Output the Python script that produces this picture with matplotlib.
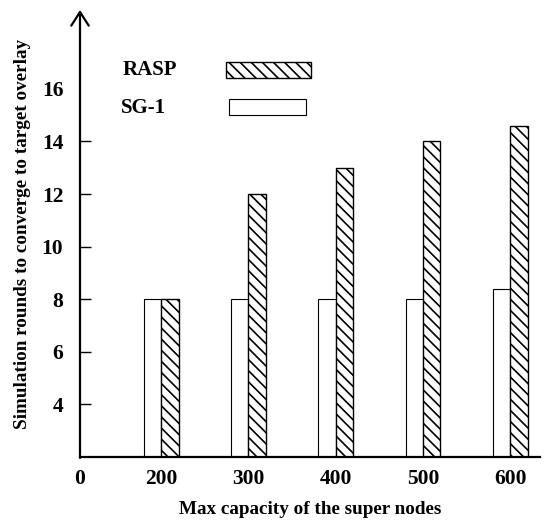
import matplotlib
matplotlib.use('Agg')
import matplotlib.pyplot as plt
from matplotlib.patches import Rectangle
import numpy as np

plt.rcParams["font.family"] = "Liberation Serif"
plt.rcParams["font.weight"] = "bold"
plt.rcParams["hatch.linewidth"] = 1.2

capacities = ['200', '300', '400', '500', '600']
sg1_rounds = [8, 8, 8, 8, 8.4]
rasp_rounds = [8, 12, 13, 14, 14.6]
y_ticks = [4, 6, 8, 10, 12, 14, 16]
series_names = ['RASP', 'SG-1']

bar_w = 0.2
hatch_rasp = '\\\\\\'
x = np.arange(1, len(capacities) + 1)

fig = plt.figure(figsize=(5.44, 5.23), dpi=100)
ax = fig.add_axes([80/544, 1 - 457/523, 460/544, 447/523])

ax.bar(x - bar_w/2, sg1_rounds, bar_w, color='white', edgecolor='black', linewidth=0.8)
ax.bar(x + bar_w/2, rasp_rounds, bar_w, color='white', edgecolor='black',
       linewidth=1.0, hatch=hatch_rasp)

ax.set_xlim(0.1, 5.34)
ax.set_ylim(2, 19.0)

# only left and bottom axis, arrow on top of the y axis
for s in ['top', 'right', 'left']:
    ax.spines[s].set_visible(False)
ax.spines['bottom'].set_linewidth(1.6)
ax.annotate('', xy=(0, 1), xytext=(0, -0.002), xycoords='axes fraction',
            arrowprops=dict(arrowstyle='->,head_length=0.7,head_width=0.45',
                            lw=1.6, color='black', shrinkA=0, shrinkB=0,
                            mutation_scale=14))

ax.set_xticks(np.concatenate([[0.07], x]))
ax.set_xticklabels(['0'] + capacities)
ax.tick_params(axis='x', length=0, pad=9, labelsize=15.5)

ax.set_yticks(y_ticks)
ax.set_yticklabels([str(t) for t in y_ticks])
ax.tick_params(axis='y', direction='in', length=8, width=1.0, pad=12, labelsize=15.5)
ax.yaxis.get_major_ticks()[-1].tick1line.set_visible(False)

ax.set_xlabel('Max capacity of the super nodes', fontsize=13.8, fontweight='bold', labelpad=8)
ax.set_ylabel('Simulation rounds to converge to target overlay', fontsize=13.8,
              fontweight='bold', labelpad=8)

# hand-made legend: label on the left, swatch on the right
ax.text(0.093, 0.866, series_names[0], transform=ax.transAxes, fontsize=15,
        fontweight='bold', va='center', ha='left')
ax.text(0.089, 0.781, series_names[1], transform=ax.transAxes, fontsize=15,
        fontweight='bold', va='center', ha='left')
ax.add_patch(Rectangle((0.317, 0.848), 0.185, 0.036, transform=ax.transAxes,
                       facecolor='white', edgecolor='black', lw=1.0, hatch=hatch_rasp))
ax.add_patch(Rectangle((0.324, 0.765), 0.167, 0.036, transform=ax.transAxes,
                       facecolor='white', edgecolor='black', lw=0.8))

plt.savefig('out.png', dpi=100)
